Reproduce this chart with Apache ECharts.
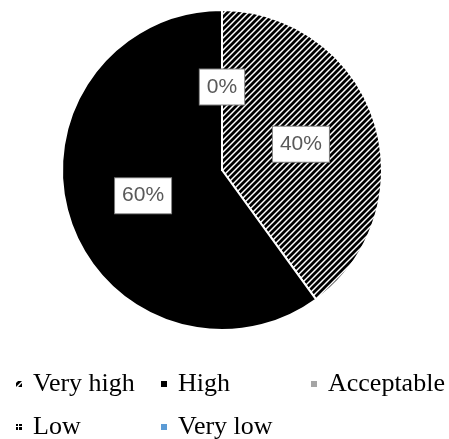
<!DOCTYPE html>
<html><head><meta charset="utf-8">
<script src="https://cdn.jsdelivr.net/npm/echarts@6/dist/echarts.min.js"></script>
<style>html,body{margin:0;padding:0;background:#fff}#c{width:449px;height:439px}</style>
</head><body><div id="c"></div>
<script>
var categories = ['Very high', 'High', 'Acceptable', 'Low', 'Very low'];
var values = [40, 60, 0, 0, 0];

function stripe() {
  var c = document.createElement('canvas'); c.width = 6; c.height = 6;
  var g = c.getContext('2d');
  g.fillStyle = '#fff'; g.fillRect(0, 0, 6, 6);
  g.strokeStyle = '#000'; g.lineWidth = 2.8;
  g.beginPath();
  g.moveTo(-1, 7); g.lineTo(7, -1);
  g.moveTo(-4, 4); g.lineTo(4, -4);
  g.moveTo(2, 10); g.lineTo(10, 2);
  g.stroke();
  return { image: c, repeat: 'repeat' };
}
function dots() {
  var c = document.createElement('canvas'); c.width = 4; c.height = 4;
  var g = c.getContext('2d');
  g.fillStyle = '#fff'; g.fillRect(0, 0, 4, 4);
  g.fillStyle = '#000'; g.fillRect(0, 0, 3, 3);
  return { image: c, repeat: 'repeat' };
}
var colors = [stripe(), '#000000', '#a5a5a5', dots(), '#5b9bd5'];

var chart = echarts.init(document.getElementById('c'));
var data = categories.map(function (n, i) {
  return { name: n, value: values[i], itemStyle: { color: colors[i] } };
});
function leg(name, left, top) {
  return {
    data: [name], left: left, top: top, itemWidth: 8, itemHeight: 8, icon: 'rect',
    itemGap: 0, padding: 0, selectedMode: false,
    textStyle: { fontFamily: 'Liberation Serif', fontSize: 26, color: '#000', padding: [0, 0, 0, 5] }
  };
}
chart.setOption({
  animation: false,
  legend: [
    leg('Very high', 14, 371),
    leg('High', 159, 371),
    leg('Acceptable', 309, 371),
    leg('Low', 14, 414),
    leg('Very low', 159, 414)
  ],
  series: [{
    type: 'pie',
    center: [222, 170],
    radius: 160,
    startAngle: 90,
    clockwise: true,
    stillShowZeroSum: true,
    minShowLabelAngle: 0,
    itemStyle: { borderColor: '#fff', borderWidth: 2 },
    label: {
      show: true, position: 'inside',
      formatter: function (p) { return p.value + '%'; },
      fontFamily: 'Liberation Sans', fontSize: 21, color: '#595959',
      backgroundColor: '#fff', borderColor: '#7f7f7f', borderWidth: 1,
      padding: [8, 7, 6, 7]
    },
    labelLine: { show: false },
    emphasis: { disabled: true },
    data: data
  }]
});
</script></body></html>
